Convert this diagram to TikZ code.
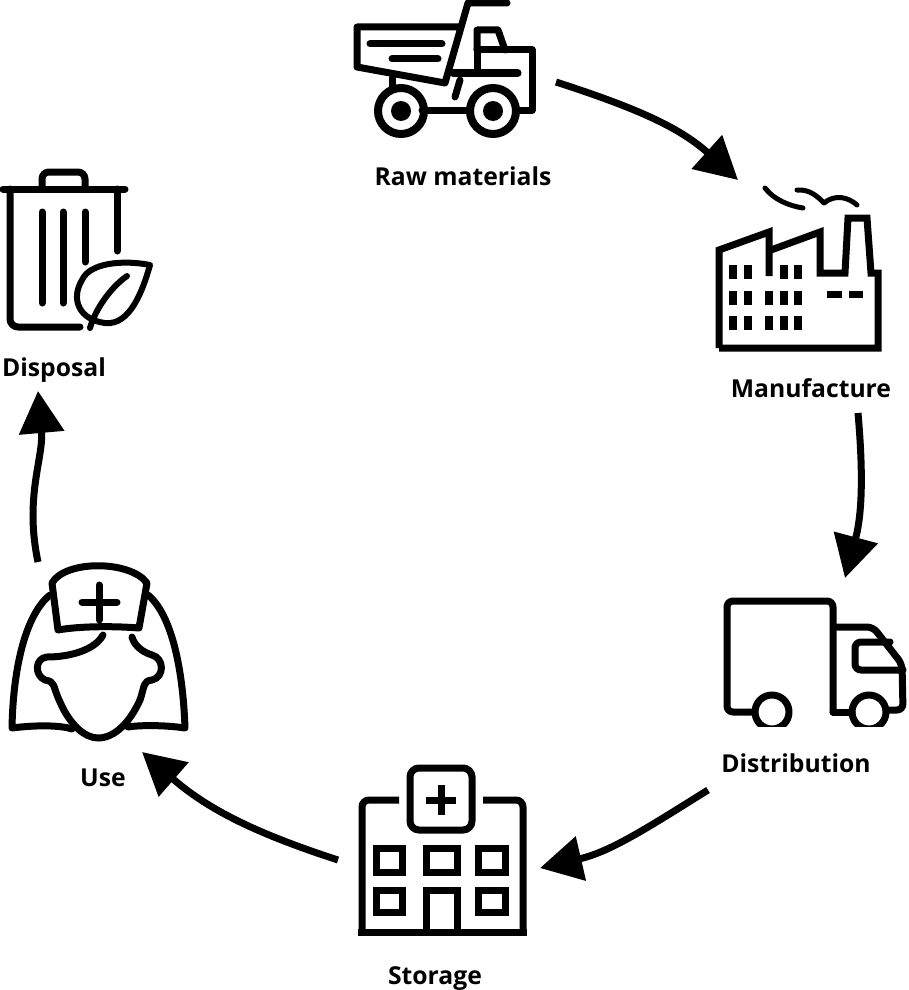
\documentclass[tikz,border=0pt]{standalone}
\usepackage{fontspec}
\setmainfont{Open Sans}
\usetikzlibrary{arrows.meta}
\tikzset{
    iconline/.style = {line width = 7pt, line join = round, line cap = round},
    thinline/.style = {line width = 5pt, line join = round, line cap = round},
    flowarrow/.style = {line width = 7pt, -{Triangle[length = 42pt, width = 44pt]}},
    steplabel/.style = {font = \fontsize{24.7}{30}\selectfont\bfseries, inner sep = 0pt, anchor = base}
}
\begin{document}
\begin{tikzpicture}[x = 1pt, y = -1pt]
    \useasboundingbox (0,0) rectangle (908,990);
    \node[steplabel] (rawmat) at (463,185) {Raw materials};
    \node[steplabel] (manufacture) at (811,397) {Manufacture};
    \node[steplabel] (distribution) at (796,772) {Distribution};
    \node[steplabel] (storage) at (435,984) {Storage};
    \node[steplabel] (use) at (103,786) {Use};
    \node[steplabel] (disposal) at (54,376) {Disposal};
    \coordinate (rawout) at (556,82);
    \coordinate (manuin) at (738,180);
    \coordinate (manuout) at (858,413);
    \coordinate (distin) at (845,578);
    \coordinate (distout) at (708,790);
    \coordinate (storin) at (540,868);
    \coordinate (storout) at (338,860);
    \coordinate (usein) at (142,752);
    \coordinate (useout) at (38,562);
    \coordinate (dispin) at (38,391);
    \draw[flowarrow] (rawout) to[out = -18, in = 138] (manuin);
    \draw[flowarrow] (manuout) to[out = -85, in = 75] (distin);
    \draw[flowarrow] (distout) to[out = -148, in = 13] (storin);
    \draw[flowarrow] (storout) to[out = 162, in = -41] (usein);
    \draw[flowarrow] (useout) to[out = 102, in = -85] (dispin);
    \begin{scope}[iconline]
        \draw (507,3) -- (468,3) -- (445,83) -- (357,67) -- (357,27) -- (460,27);
        \draw (370,44) -- (442,44);
        \draw (392,59) -- (438,59);
        \draw (477,50) -- (477,30) -- (498,30) -- (505,50);
        \draw (477,50) -- (532,50) -- (532,110) -- (517,110);
        \draw (453,73) -- (518,73);
        \draw (477,50) -- (477,73);
        \draw (460,80) -- (455,97);
        \draw (422,110) -- (470,110);
        \draw (392,78) -- (392,90);
        \draw[line width = 8pt] (401,111) circle[radius = 23];
        \draw[line width = 8pt] (493,111) circle[radius = 23];
        \fill (401,111) circle[radius = 10];
        \fill (493,111) circle[radius = 10];
    \end{scope}
    \draw[iconline, line cap = butt, line join = miter] (719,348) -- (719,250) -- (769,232) -- (769,276);
    \draw[iconline, line cap = butt, line join = miter] (719,348) -- (878,348) -- (878,273) -- (871,273) -- (867,218) -- (848,218) -- (845,273) -- (820,273) -- (820,232) -- (771,250);
    \foreach \xw in {733,748,784,798} {
        \fill (\xw-4,265) rectangle (\xw+4,279);
    }
    \foreach \yw in {291,316} {
        \foreach \xw in {733,748,769,784,798} {
            \fill (\xw-4,\yw) rectangle (\xw+4,\yw+14);
        }
    }
    \fill (827,291) rectangle (842,298);
    \fill (849,291) rectangle (863,298);
    \draw[thinline] (765,188) .. controls (774,200) and (790,206) .. (803,208);
    \draw[thinline] (797,190) .. controls (810,189) and (818,197) .. (824,203) .. controls (835,194) and (848,197) .. (857,205);
    \begin{scope}[iconline]
        \draw[rounded corners = 6pt] (833,712) -- (833,601) -- (727,601) -- (727,712) -- (755,712);
        \draw (833,712) -- (852,712);
        \draw (772,712) circle[radius = 17];
        \draw (869,712) circle[radius = 17];
        \draw[rounded corners = 6pt] (837,627) -- (873,627) -- (902,664) -- (903,710) -- (886,710);
        \draw[rounded corners = 6pt] (890,642) -- (855,642) -- (855,670) -- (903,670);
    \end{scope}
    \fill[white] (750,727) rectangle (890,735);
    \begin{scope}[iconline, line cap = butt, line join = miter]
        \draw (358,932) -- (527,932);
        \draw[rounded corners = 7pt] (362,932) -- (362,800) -- (399,800);
        \draw[rounded corners = 7pt] (523,932) -- (523,800) -- (483,800);
        \draw[rounded corners = 9pt] (410,768) rectangle (472,830);
        \draw (441,785) -- (441,815);
        \draw (426,800) -- (456,800);
        \foreach \xh/\xe in {376/402,426/457,478/505} {
            \draw (\xh,848) rectangle (\xe,872);
        }
        \foreach \xh/\xe in {376/402,478/505} {
            \draw (\xh,890) rectangle (\xe,912);
        }
        \draw (426,932) -- (426,890) -- (457,890) -- (457,932);
    \end{scope}
    \begin{scope}[iconline]
        \draw (52,583) .. controls (65,560) and (130,560) .. (147,583) -- (139,628) .. controls (115,626) and (80,626) .. (58,630) -- cycle;
        \draw (99,585) -- (99,620);
        \draw (82,602) -- (117,602);
        \draw (50,595) .. controls (25,615) and (13,670) .. (12,728) .. controls (35,725) and (60,725) .. (72,729);
        \draw (148,595) .. controls (172,615) and (183,670) .. (185,728) .. controls (165,725) and (140,725) .. (128,727);
        \draw (103,635) .. controls (95,650) and (70,657) .. (47,657) .. controls (35,658) and (34,675) .. (45,680) .. controls (56,682) and (52,685) .. (60,702) .. controls (70,725) and (85,738) .. (98,738) .. controls (115,738) and (130,722) .. (140,700) .. controls (145,685) and (143,681) .. (152,680) .. controls (165,677) and (164,658) .. (152,655) .. controls (142,652) and (134,645) .. (132,637);
    \end{scope}
    \begin{scope}[iconline]
        \draw (3,189) -- (125,189);
        \draw[rounded corners = 7pt] (42,187) -- (42,172) -- (85,172) -- (85,187);
        \draw[rounded corners = 8pt] (10,189) -- (10,327) -- (80,327);
        \draw (117,189) -- (117,251);
        \draw (42,212) -- (42,303);
        \draw (63,212) -- (63,303);
        \draw (85,212) -- (85,262);
        \draw[line width = 6pt] (150,265) .. controls (125,260) and (90,262) .. (82,280) .. controls (70,300) and (80,320) .. (105,323) .. controls (130,326) and (143,290) .. (150,265) -- cycle;
        \draw[line width = 6pt] (127,276) .. controls (110,288) and (95,310) .. (90,328);
    \end{scope}
\end{tikzpicture}
\end{document}
